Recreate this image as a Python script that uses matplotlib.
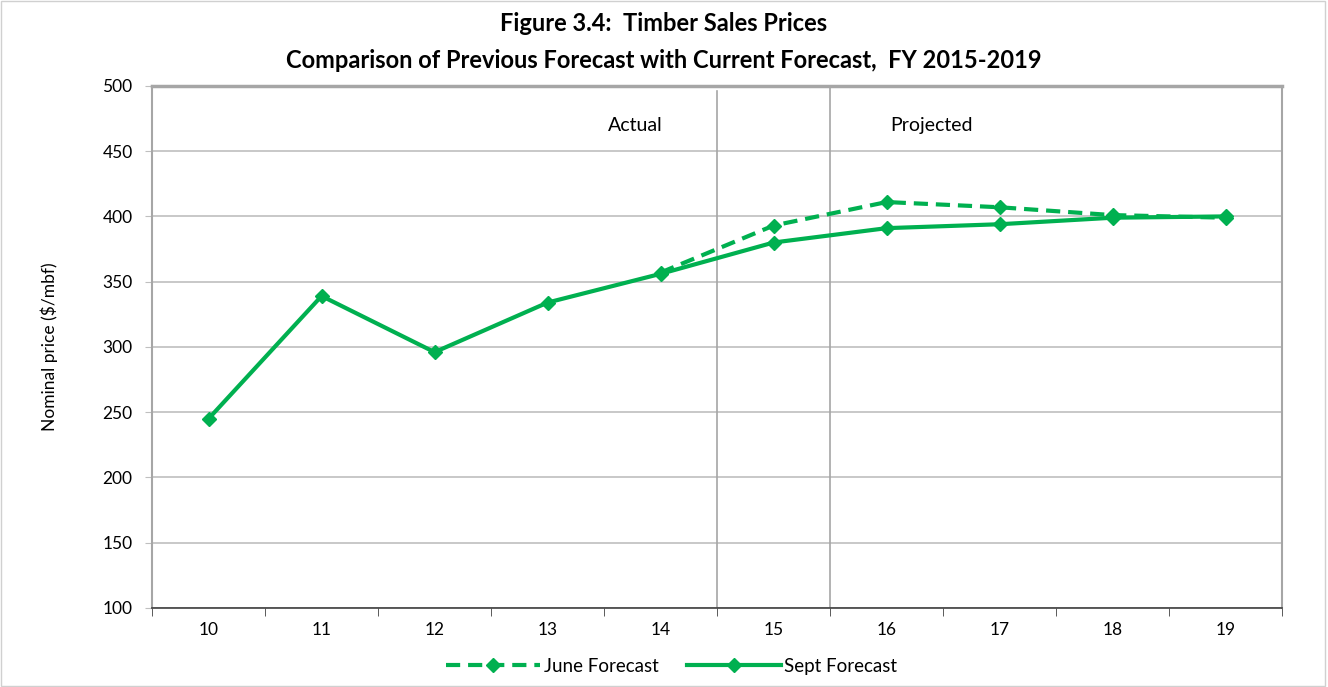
import numpy as np
import matplotlib.pyplot as plt

plt.rcParams['font.family'] = ['Lato', 'DejaVu Sans']

# ---- data ----
years = ["10", "11", "12", "13", "14", "15", "16", "17", "18", "19"]
sept_forecast = [245, 339, 296, 334, 356, 380, 391, 394, 399, 400]
june_years = ["14", "15", "16", "17", "18", "19"]
june_forecast = [357, 393, 411, 407, 401, 399]

green = "#00B050"
grid_col = "#BFBFBF"

fig = plt.figure(figsize=(13.28, 6.87), dpi=100)
ax = fig.add_axes([0.1145, 0.115, 0.851, 0.760])

x = np.arange(len(years))
xj = np.array([years.index(y) for y in june_years])

ax.plot(xj, june_forecast, color=green, lw=3, ls=(0, (3.4, 1.9)), marker='D',
        markersize=7, label="June Forecast", zorder=3)
ax.plot(x, sept_forecast, color=green, lw=3, marker='D', markersize=7,
        label="Sept Forecast", zorder=4)

ax.set_xlim(-0.5, len(years) - 0.5)
ax.set_ylim(100, 500)
ax.set_yticks(np.arange(100, 501, 50))
ax.set_xticks(x)
ax.set_xticklabels(years)
ax.set_xticks(np.arange(-0.5, len(years)), minor=True)
ax.tick_params(axis='x', which='major', length=0, labelsize=12.5, pad=10)
ax.tick_params(axis='x', which='minor', length=6, direction='out', color='#404040')
ax.tick_params(axis='y', length=5, direction='out', color=grid_col, labelsize=12.5, pad=9)
ax.grid(axis='y', color=grid_col, lw=1.2)
ax.set_axisbelow(True)

for s in ['top', 'right', 'left']:
    ax.spines[s].set_color('#A6A6A6')
    ax.spines[s].set_linewidth(1.5)
ax.spines['top'].set_linewidth(2.5)
ax.spines['bottom'].set_color('#404040')
ax.spines['bottom'].set_linewidth(1.2)

# actual / projected separators
ax.plot([4.5, 4.5], [100, 496], color='#A6A6A6', lw=1.2, zorder=1)
ax.plot([5.5, 5.5], [100, 500], color='#A6A6A6', lw=1.2, zorder=1)
ax.text(3.78, 470, "Actual", ha='center', va='center', fontsize=14)
ax.text(6.40, 470, "Projected", ha='center', va='center', fontsize=14)

ax.set_ylabel("Nominal price ($/mbf)", fontsize=12.5)
ax.yaxis.set_label_coords(-0.083, 0.5)

fig.suptitle("Figure 3.4:  Timber Sales Prices\nComparison of Previous Forecast with Current Forecast,  FY 2015-2019",
             fontsize=17, fontweight='bold', y=0.982, linespacing=1.7)

ax.legend(loc='lower center', bbox_to_anchor=(0.46, -0.16), ncol=2, frameon=False,
          fontsize=13.5, handlelength=5.0, columnspacing=1.5, handletextpad=0.2)

fig.patches.append(plt.Rectangle((0.001, 0.001), 0.997, 0.997, transform=fig.transFigure,
                                 fill=False, edgecolor='#D0D0D0', lw=1))

fig.savefig("out.png", dpi=100)
